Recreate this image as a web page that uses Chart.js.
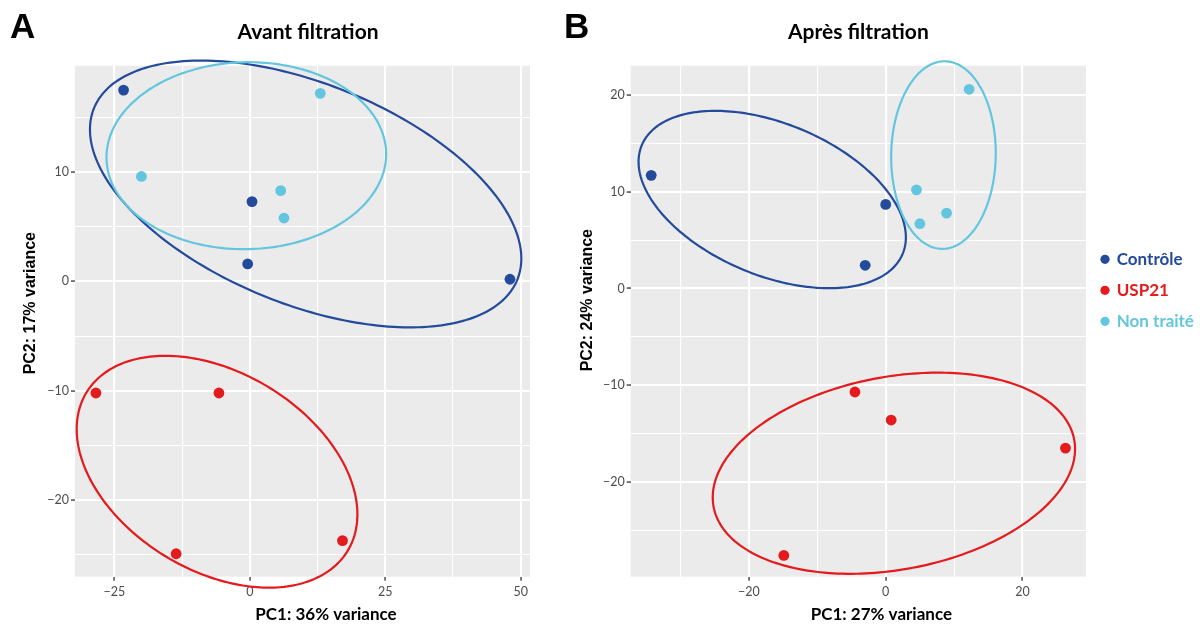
<!DOCTYPE html>
<html><head><meta charset="utf-8">
<script src="https://cdn.jsdelivr.net/npm/chart.js@4.4.1/dist/chart.umd.min.js"></script>
<style>
html,body{margin:0;padding:0;background:#fff;width:1204px;height:625px;overflow:hidden}
#wrapA{position:absolute;left:0;top:0;width:560px;height:625px}
#wrapB{position:absolute;left:560px;top:0;width:644px;height:625px}
canvas{display:block}
</style></head><body>
<div id="wrapA"><canvas id="chartA" width="560" height="625"></canvas></div>
<div id="wrapB"><canvas id="chartB" width="644" height="625"></canvas></div>
<script>
// ---------- data ----------
const groups = ['Contrôle', 'USP21', 'Non traité'];
const groupColors = ['#234A9B', '#E41A1C', '#63C6DE'];

// Panel A : Avant filtration
const aTitle = 'Avant filtration';
const aXLabel = 'PC1: 36% variance';
const aYLabel = 'PC2: 17% variance';
const aControleX = [-23.3, 0.4, -0.4, 48.0];
const aControleY = [17.5, 7.3, 1.6, 0.2];
const aUSP21X = [-28.4, -5.7, -13.6, 17.1];
const aUSP21Y = [-10.2, -10.2, -24.9, -23.7];
const aNonTraiteX = [-20.0, 5.7, 6.3, 13.0];
const aNonTraiteY = [9.6, 8.3, 5.8, 17.2];
const aXRange = [-32.26, 51.7];
const aYRange = [-27.0, 19.73];
const aXTicks = [-25, 0, 25, 50];
const aYTicks = [-20, -10, 0, 10];
// ellipses: [centerX, centerY, halfWidthX, halfHeightY, yOffsetAtRightmostPoint]
const aEllControle = [10.3, 8.0, 39.8, 12.2, -5.9];
const aEllUSP21 = [-6.05, -17.4, 25.9, 10.6, -3.9];
const aEllNonTraite = [-0.65, 11.5, 25.8, 8.55, 0.15];

// Panel B : Après filtration
const bTitle = 'Après filtration';
const bXLabel = 'PC1: 27% variance';
const bYLabel = 'PC2: 24% variance';
const bControleX = [-34.3, 0.0, -3.0];
const bControleY = [11.7, 8.7, 2.4];
const bUSP21X = [-4.5, 0.8, 26.3, -14.9];
const bUSP21Y = [-10.7, -13.6, -16.5, -27.6];
const bNonTraiteX = [4.5, 5.0, 8.9, 12.2];
const bNonTraiteY = [10.2, 6.7, 7.8, 20.6];
const bXRange = [-37.3, 29.3];
const bYRange = [-29.8, 23.04];
const bXTicks = [-20, 0, 20];
const bYTicks = [-20, -10, 0, 10, 20];
const bEllControle = [-16.6, 9.2, 19.55, 9.17, -3.9];
const bEllUSP21 = [1.2, -19.1, 26.5, 10.4, 2.5];
const bEllNonTraite = [8.45, 13.8, 7.65, 9.7, 0.2];

// ---------- helpers ----------
const zip = (xs, ys) => xs.map((x, i) => ({x: x, y: ys[i]}));
const fmt = v => (v < 0 ? '\u2212' + Math.abs(v) : String(v));
const isIn = (list, v) => list.some(t => Math.abs(t - v) < 1e-6);

function ellipsePlugin(items) {
  return {
    id: 'ellipses',
    beforeDatasetsDraw(chart) {
      const ctx = chart.ctx, xs = chart.scales.x, ys = chart.scales.y;
      items.forEach(it => {
        const [cx, cy, wx, wy, dyr] = it.p;
        const q2 = Math.sqrt(Math.max(wy * wy - dyr * dyr, 0));
        ctx.save();
        ctx.beginPath();
        const n = 240;
        for (let i = 0; i <= n; i++) {
          const t = i / n * 2 * Math.PI;
          const px = xs.getPixelForValue(cx + wx * Math.cos(t));
          const py = ys.getPixelForValue(cy + dyr * Math.cos(t) + q2 * Math.sin(t));
          if (i === 0) ctx.moveTo(px, py); else ctx.lineTo(px, py);
        }
        ctx.closePath();
        ctx.strokeStyle = it.c;
        ctx.lineWidth = 2.2;
        ctx.stroke();
        ctx.restore();
      });
    }
  };
}

const panelBg = {
  id: 'panelBg',
  beforeDraw(chart) {
    const {ctx, chartArea: a} = chart;
    ctx.save();
    ctx.fillStyle = '#EBEBEB';
    ctx.fillRect(a.left, a.top, a.right - a.left, a.bottom - a.top);
    ctx.restore();
  }
};

function letterPlugin(letter, x) {
  return {
    id: 'panelLetter',
    afterDraw(chart) {
      const ctx = chart.ctx;
      ctx.save();
      ctx.font = 'bold 35px "Liberation Sans", Arial, sans-serif';
      ctx.fillStyle = '#000';
      ctx.textBaseline = 'alphabetic';
      ctx.textAlign = 'left';
      ctx.fillText(letter, x, 38);
      ctx.restore();
    }
  };
}

// moves the title blocks slightly (only while the axes are drawn)
function shiftPlugin(s) {
  let applied = false;
  const apply = (chart, sign) => {
    chart.scales.x.left += sign * s.xTitle; chart.scales.x.right += sign * s.xTitle;
    chart.scales.y.top += sign * s.yTitle; chart.scales.y.bottom += sign * s.yTitle;
  };
  return {
    id: 'shiftText',
    afterLayout(chart) {
      if (chart.titleBlock) { chart.titleBlock.left += s.title; chart.titleBlock.right += s.title; }
      apply(chart, 1); applied = true;
      if (s.legend && chart.legend) {
        const L = chart.legend;
        L.left = s.legend.left; L.right = s.legend.right;
        L.top = s.legend.top; L.bottom = s.legend.bottom;
        L.width = L.right - L.left; L.height = L.bottom - L.top;
      }
    },
    beforeDatasetsDraw(chart) {
      if (applied) { apply(chart, -1); applied = false; }
    }
  };
}

function scaleOpts(range, step, majors, title, titleFont, titlePad, fitSize, horizontal) {
  return {
    type: 'linear',
    position: horizontal ? 'bottom' : 'left',
    min: range[0], max: range[1],
    border: {display: false},
    grid: {
      color: '#FFFFFF',
      lineWidth: c => (c.tick && isIn(majors, c.tick.value)) ? 2.1 : 1.1,
      drawTicks: true,
      tickLength: 4,
      tickWidth: 1.3,
      tickColor: c => (c.tick && isIn(majors, c.tick.value)) ? '#333333' : 'rgba(0,0,0,0)'
    },
    ticks: {
      stepSize: step,
      includeBounds: false,
      autoSkip: false,
      maxRotation: 0,
      minRotation: 0,
      padding: horizontal ? 4 : 2,
      color: '#4D4D4D',
      font: {family: 'Lato', size: 12.5},
      callback: v => isIn(majors, v) ? fmt(v) : ''
    },
    title: {
      display: true,
      text: title,
      color: '#000000',
      font: titleFont,
      padding: titlePad
    },
    afterFit: sc => { if (horizontal) sc.height = fitSize; else sc.width = fitSize; }
  };
}

function makeChart(canvasId, cfg) {
  const datasets = [
    {label: groups[0], data: zip(cfg.cx, cfg.cy)},
    {label: groups[1], data: zip(cfg.ux, cfg.uy)},
    {label: groups[2], data: zip(cfg.nx, cfg.ny)}
  ].map((d, i) => Object.assign(d, {
    backgroundColor: groupColors[i],
    borderColor: groupColors[i],
    pointRadius: 5.4,
    pointBorderWidth: 0,
    showLine: false
  }));

  return new Chart(document.getElementById(canvasId), {
    type: 'scatter',
    data: {datasets: datasets},
    options: {
      responsive: false,
      animation: false,
      events: [],
      layout: {padding: {left: 0, right: cfg.padRight, top: 0, bottom: 0}},
      scales: {
        x: scaleOpts(cfg.xRange, cfg.xStep, cfg.xTicks, cfg.xLabel,
          {family: 'Lato', size: 17, weight: 'bold'}, {top: 0, bottom: 0}, 48.3, true),
        y: scaleOpts(cfg.yRange, cfg.yStep, cfg.yTicks, cfg.yLabel,
          {family: '"Liberation Sans", Arial, sans-serif', size: 16, weight: 'bold'},
          {top: cfg.yTitlePad, bottom: 0}, cfg.yWidth, false)
      },
      plugins: {
        tooltip: {enabled: false},
        title: {
          display: true,
          text: cfg.title,
          fullSize: false,
          color: '#000000',
          font: {family: 'Lato', size: 21, weight: 'bold'},
          padding: {top: 20, bottom: 20.5}
        },
        legend: cfg.legend ? {
          display: true,
          position: 'chartArea',
          align: 'start',
          labels: {
            usePointStyle: true,
            pointStyle: 'circle',
            boxWidth: 6.5,
            boxHeight: 6.5,
            padding: 14,
            font: {family: 'Lato', size: 17, weight: 'bold'},
            generateLabels: ch => ch.data.datasets.map((ds, i) => ({
              text: ds.label,
              fillStyle: ds.backgroundColor,
              strokeStyle: ds.backgroundColor,
              fontColor: ds.backgroundColor,
              lineWidth: 0,
              pointStyle: 'circle',
              hidden: false,
              datasetIndex: i
            }))
          }
        } : {display: false}
      }
    },
    plugins: [panelBg, ellipsePlugin(cfg.ellipses), letterPlugin(cfg.letter, cfg.letterX), shiftPlugin(cfg.shift)]
  });
}

makeChart('chartA', {
  title: aTitle, xLabel: aXLabel, yLabel: aYLabel,
  cx: aControleX, cy: aControleY, ux: aUSP21X, uy: aUSP21Y, nx: aNonTraiteX, ny: aNonTraiteY,
  xRange: aXRange, yRange: aYRange, xStep: 12.5, yStep: 5, xTicks: aXTicks, yTicks: aYTicks,
  ellipses: [{p: aEllControle, c: groupColors[0]}, {p: aEllUSP21, c: groupColors[1]}, {p: aEllNonTraite, c: groupColors[2]}],
  padRight: 30, yWidth: 75, yTitlePad: 21.4,
  letter: 'A', letterX: 10,
  shift: {title: 5.5, xTitle: 23.5, yTitle: -18},
  legend: false
});

makeChart('chartB', {
  title: bTitle, xLabel: bXLabel, yLabel: bYLabel,
  cx: bControleX, cy: bControleY, ux: bUSP21X, uy: bUSP21Y, nx: bNonTraiteX, ny: bNonTraiteY,
  xRange: bXRange, yRange: bYRange, xStep: 10, yStep: 5, xTicks: bXTicks, yTicks: bYTicks,
  ellipses: [{p: bEllControle, c: groupColors[0]}, {p: bEllUSP21, c: groupColors[1]}, {p: bEllNonTraite, c: groupColors[2]}],
  padRight: 118, yWidth: 70.7, yTitlePad: 18.4,
  letter: 'B', letterX: 4,
  shift: {title: 0, xTitle: 23, yTitle: -21, legend: {left: 527.75, right: 644, top: 236.8, bottom: 620}},
  legend: true
});
</script>
</body></html>
